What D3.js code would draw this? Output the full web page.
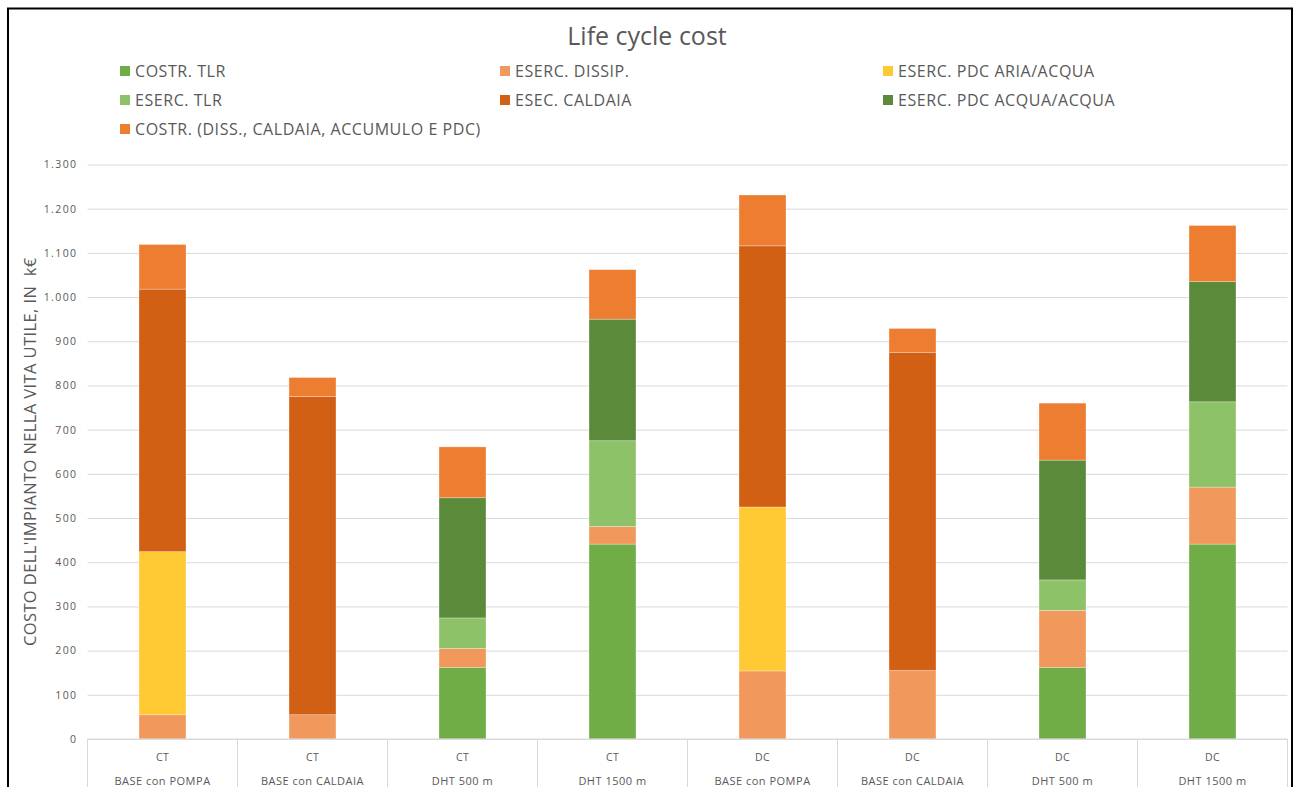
<!DOCTYPE html>
<html>
<head>
<meta charset="utf-8">
<script src="https://cdn.jsdelivr.net/npm/d3@7/dist/d3.min.js"></script>
<style>
  html, body { margin: 0; padding: 0; background: #fff; }
  svg { display: block; }
  text { font-family: "Open Sans", Lato, sans-serif; fill: #595959; }
</style>
</head>
<body>
<svg id="chart" width="1299" height="787"></svg>
<script>
// Scenario groups and sub-labels (two-level category axis)
const groups = ["CT", "CT", "CT", "CT", "DC", "DC", "DC", "DC"];
const scenarios = ["BASE con POMPA", "BASE con CALDAIA", "DHT 500 m", "DHT 1500 m",
                   "BASE con POMPA", "BASE con CALDAIA", "DHT 500 m", "DHT 1500 m"];

// Cost components, k€
const costrTLR    = [0, 0, 162, 441, 0, 0, 162, 441];
const esercDissip = [55, 55, 43, 40, 154, 155, 129, 129];
const pdcAria     = [369, 0, 0, 0, 371, 0, 0, 0];
const esercTLR    = [0, 0, 69, 194, 0, 0, 69, 193];
const esecCaldaia = [594, 720, 0, 0, 591, 720, 0, 0];
const pdcAcqua    = [0, 0, 272, 275, 0, 0, 271, 272];
const costrImp    = [101, 43, 115, 112, 115, 54, 129, 127];

const seriesNames = ["COSTR. TLR", "ESERC. DISSIP.", "ESERC. PDC ARIA/ACQUA",
                     "ESERC. TLR", "ESEC. CALDAIA", "ESERC. PDC ACQUA/ACQUA",
                     "COSTR. (DISS., CALDAIA, ACCUMULO E PDC)"];
const seriesValues = [costrTLR, esercDissip, pdcAria, esercTLR, esecCaldaia, pdcAcqua, costrImp];
const seriesColors = ["#70AD47", "#F1995C", "#FFC933", "#8DC268", "#D16014", "#5B8A3B", "#ED7D31"];

const yTicks = [0, 100, 200, 300, 400, 500, 600, 700, 800, 900, 1000, 1100, 1200, 1300];

const svg = d3.select("#chart");

// outer frame
svg.append("rect")
  .attr("x", 8).attr("y", 8.5).attr("width", 1284).attr("height", 820)
  .attr("fill", "none").attr("stroke", "#000").attr("stroke-width", 2);

const plot = { left: 87.5, right: 1287.5, top: 164.5, bottom: 739 };

const rows = groups.map((g, i) => {
  const r = { idx: i };
  seriesNames.forEach((s, k) => { r[s] = seriesValues[k][i]; });
  return r;
});

const x = d3.scaleBand()
  .domain(rows.map(r => r.idx))
  .range([plot.left, plot.right])
  .paddingInner(0.687).paddingOuter(0.3435);

const y = d3.scaleLinear().domain([0, 1300]).range([plot.bottom, plot.top]);

const it = d3.formatLocale({ decimal: ",", thousands: ".", grouping: [3], currency: ["", "€"] });
const fmt = it.format(",d");

// gridlines
const yAxis = d3.axisLeft(y).tickValues(yTicks).tickFormat(fmt)
  .tickSize(-(plot.right - plot.left)).tickPadding(10);
const gy = svg.append("g").attr("transform", `translate(${plot.left},0)`).call(yAxis);
gy.select(".domain").remove();
gy.selectAll(".tick line").attr("stroke", "#d9d9d9").attr("stroke-width", 1);
gy.selectAll(".tick text").attr("font-size", 10.5).attr("fill", "#595959")
  .attr("letter-spacing", 1.4)
  .style("font-family", "\"Open Sans\", sans-serif");

// stacked bars
const stack = d3.stack().keys(seriesNames);
const layers = stack(rows);
svg.append("g").selectAll("g").data(layers).join("g")
  .attr("fill", (d, i) => seriesColors[i])
  .selectAll("rect").data(d => d.filter(p => p[1] - p[0] > 0)).join("rect")
  .attr("x", d => x(d.data.idx))
  .attr("width", x.bandwidth())
  .attr("y", d => y(d[1]))
  .attr("height", d => y(d[0]) - y(d[1]))
  .attr("stroke", "rgba(255,255,255,0.35)").attr("stroke-width", 0.8);

// category axis boxes
const step = x.step();
const cat = svg.append("g");
cat.append("line")
  .attr("x1", plot.left).attr("x2", plot.right)
  .attr("y1", plot.bottom).attr("y2", plot.bottom)
  .attr("stroke", "#d9d9d9");
const bounds = d3.range(rows.length + 1).map(i => plot.left + i * step);
cat.selectAll("line.sep").data(bounds).join("line").attr("class", "sep")
  .attr("x1", d => d).attr("x2", d => d)
  .attr("y1", plot.bottom).attr("y2", 800)
  .attr("stroke", "#d9d9d9");
cat.selectAll("text.grp").data(rows).join("text").attr("class", "grp")
  .attr("x", d => x(d.idx) + x.bandwidth() / 2).attr("y", 761)
  .attr("text-anchor", "middle").attr("font-size", 10.5).attr("letter-spacing", 0.4)
  .text(d => groups[d.idx]);
cat.selectAll("text.scn").data(rows).join("text").attr("class", "scn")
  .attr("x", d => x(d.idx) + x.bandwidth() / 2).attr("y", 784.5)
  .attr("text-anchor", "middle").attr("font-size", 11).attr("letter-spacing", 0.5)
  .text(d => scenarios[d.idx]);

// y axis title
svg.append("text")
  .attr("transform", `translate(36,${(plot.top + plot.bottom) / 2}) rotate(-90)`)
  .attr("text-anchor", "middle").attr("font-size", 16.5).attr("letter-spacing", 0.4)
  .style("white-space", "pre")
  .text("COSTO DELL'IMPIANTO NELLA VITA UTILE, IN  k€");

// title
svg.append("text")
  .attr("x", 647).attr("y", 45).attr("text-anchor", "middle")
  .attr("font-size", 25).text("Life cycle cost");

// legend: 3 columns, row-major
const legCols = [120, 500, 883];
const legRows = [71, 100, 129];
const leg = svg.append("g").selectAll("g").data(seriesNames).join("g")
  .attr("transform", (d, i) => `translate(${legCols[i % 3]},${legRows[Math.floor(i / 3)]})`);
leg.append("rect").attr("x", 0).attr("y", -5).attr("width", 10).attr("height", 10)
  .attr("fill", (d, i) => seriesColors[i]);
leg.append("text").attr("x", 15).attr("y", 6).attr("font-size", 16).attr("letter-spacing", 0.55)
  .text(d => d);
</script>
</body>
</html>
